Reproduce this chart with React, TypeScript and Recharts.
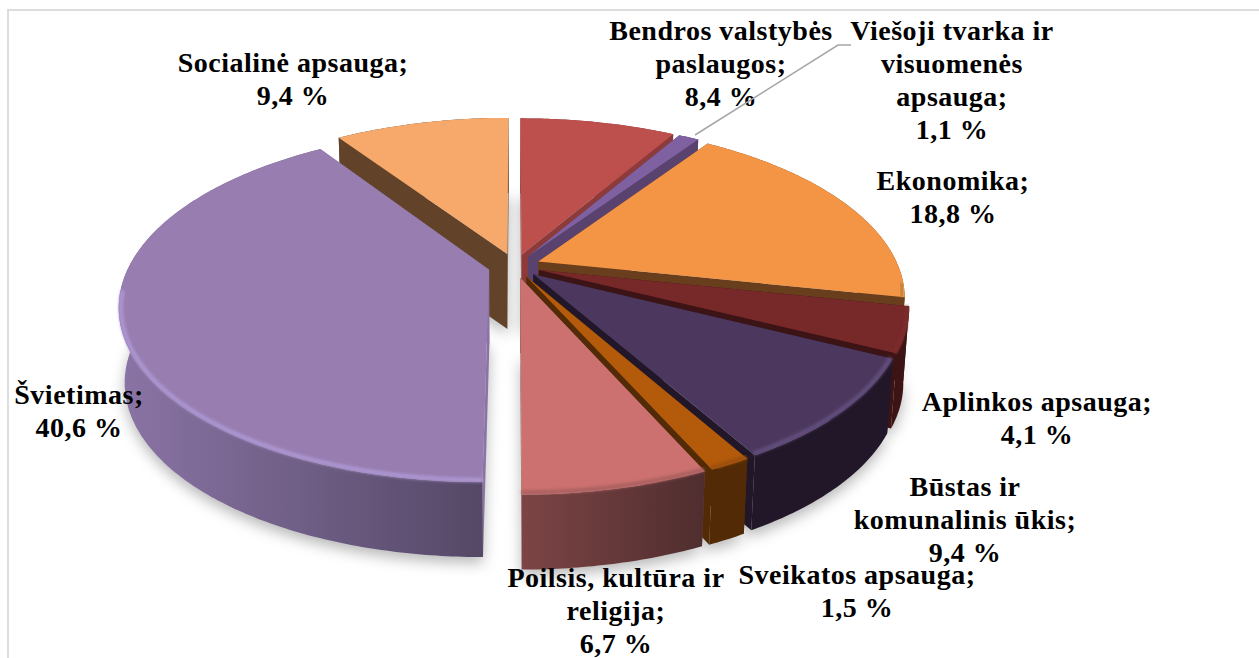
import React from "react";
import { PieChart, Pie, Cell } from "recharts";

const categories = [
  "Socialinė apsauga",
  "Bendros valstybės paslaugos",
  "Viešoji tvarka ir visuomenės apsauga",
  "Ekonomika",
  "Aplinkos apsauga",
  "Būstas ir komunalinis ūkis",
  "Sveikatos apsauga",
  "Poilsis, kultūra ir religija",
  "Švietimas",
];
const shares = [9.4, 8.4, 1.1, 18.8, 4.1, 9.4, 1.5, 6.7, 40.6];

const topColors = ["#F6A96B", "#BD4F4D", "#7F60A0", "#F39545", "#772829", "#4C385E", "#B35A0B", "#CC7170", "#977DB0"];
const wallColorsA = ["#62432A", "#8C3A3A", "#5A426F", "#683E1D", "#3D1415", "#211729", "#522A05", "#7D4445", "#8A74A5"];
const wallColorsB = ["#62432A", "#8C3A3A", "#5A426F", "#683E1D", "#3D1415", "#211729", "#522A05", "#4F2D2E", "#544866"];
const bevelColors = ["#F6A96B", "#BD4F4D", "#7F60A0", "#B9803F", "#7D2C2C", "#655080", "#9A4E0A", "#A85F5F", "#AE98D4"];
const explosions = [0.075, 0.07, 0.07, 0.07, 0.07, 0.07, 0.07, 0.07, 0.075];

const labelLines = [
  ["Socialinė apsauga;", "9,4 %"],
  ["Bendros valstybės", "paslaugos;", "8,4 %"],
  ["Viešoji tvarka ir", "visuomenės", "apsauga;", "1,1 %"],
  ["Ekonomika;", "18,8 %"],
  ["Aplinkos apsauga;", "4,1 %"],
  ["Būstas ir", "komunalinis ūkis;", "9,4 %"],
  ["Sveikatos apsauga;", "1,5 %"],
  ["Poilsis, kultūra ir", "religija;", "6,7 %"],
  ["Švietimas;", "40,6 %"],
];
const labelX = [293, 721, 952, 953, 1037, 965, 857, 616, 79];
const labelY = [72, 40, 40, 190, 411, 496, 584, 587, 404];

const chartData = categories.map((name, i) => ({ name, value: shares[i] }));

const W = 1259;
const H = 658;
const CX = 515;
const CY = 266;
const K = 0.201;
const RX = 360;
const RY = 168;
const DEPTH = 75;
const FLOOR_SCALE = 0.985;
const BASE_R = 100;

function project(ux: number, uy: number): [number, number] {
  const d = 1 - K * uy;
  return [CX + (RX * ux) / d, CY + (RY * uy) / d];
}

function samples(start: number, end: number, ex: number, ey: number) {
  const n = Math.max(2, Math.ceil(Math.abs(start - end) * 1.5));
  const pts: { p: [number, number]; uy: number }[] = [];
  for (let i = 0; i <= n; i++) {
    const a = ((start + ((end - start) * i) / n) * Math.PI) / 180;
    const uy = -Math.sin(a);
    pts.push({ p: project(ex + Math.cos(a), ey + uy), uy });
  }
  return pts;
}

function toPath(pts: [number, number][], close = true) {
  return pts.map((p, i) => `${i ? "L" : "M"}${p[0].toFixed(1)} ${p[1].toFixed(1)}`).join("") + (close ? "Z" : "");
}

const down = (p: [number, number]): [number, number] => [CX + (p[0] - CX) * FLOOR_SCALE, p[1] + DEPTH];

function sliceGeometry(props: any) {
  const { startAngle, endAngle, index } = props;
  const mid = (((startAngle + endAngle) / 2) * Math.PI) / 180;
  const e = explosions[index];
  const ex = e * Math.cos(mid);
  const ey = -e * Math.sin(mid);
  const apex = project(ex, ey);
  const rim = samples(startAngle, endAngle, ex, ey);
  return { apex, rim, rimPts: rim.map((r) => r.p) };
}

function ShadowShape(props: any) {
  const { apex, rimPts } = sliceGeometry(props);
  const pts = [apex, ...rimPts].map(down);
  return <path d={toPath(pts)} fill="#000" fillOpacity={0.28} filter="url(#floorBlur)" transform="translate(0 6)" />;
}

function SliceShape(props: any) {
  const { index } = props;
  const { apex, rim, rimPts } = sliceGeometry(props);
  const first = rimPts[0];
  const last = rimPts[rimPts.length - 1];
  const cutA = [apex, first, down(first), down(apex)];
  const cutB = [apex, last, down(last), down(apex)];
  const outer = [...rimPts, ...rimPts.slice().reverse().map(down)];
  const front = rim
    .filter((r) => r.uy > 0.12)
    .map((r) => [apex[0] + (r.p[0] - apex[0]) * 0.994, apex[1] + (r.p[1] - apex[1]) * 0.99] as [number, number]);
  return (
    <g>
      <path d={toPath(cutA)} fill={wallColorsA[index]} />
      <path d={toPath(cutB)} fill={wallColorsA[index]} />
      <path d={toPath(outer)} fill={`url(#wall${index})`} />
      <path d={toPath([apex, ...rimPts])} fill={topColors[index]} />
      {front.length > 1 && (
        <path
          d={toPath(front, false)}
          fill="none"
          stroke={bevelColors[index]}
          strokeWidth={4}
          filter="url(#bevelBlur)"
        />
      )}
    </g>
  );
}

function renderLabel(props: any) {
  const i = props.index;
  return (
    <g key={`lab${i}`}>
      {i === 2 && (
        <polyline points="695,135 838,45 851,45" fill="none" stroke="#A6A6A6" strokeWidth={1.5} />
      )}
      <text
        x={labelX[i]}
        y={labelY[i]}
        textAnchor="middle"
        fontFamily="'Liberation Serif', serif"
        fontWeight={700}
        fontSize={28}
        letterSpacing={0.5}
        fill="#000"
      >
        {labelLines[i].map((line, j) => (
          <tspan key={j} x={labelX[i]} dy={j === 0 ? 0 : 33}>
            {line}
          </tspan>
        ))}
      </text>
    </g>
  );
}

const startAngle = 90 + (shares[0] / 100) * 360;

export default function App() {
  return (
    <div style={{ position: "fixed", left: 0, top: 0, width: W, height: H, background: "#fff", overflow: "hidden" }}>
      <div
        style={{
          position: "absolute",
          left: 7,
          top: 9,
          width: 1300,
          height: 700,
          border: "2px solid #DDDDDD",
          boxSizing: "border-box",
        }}
      />
      <div style={{ position: "absolute", left: 0, top: 0 }}>
        <PieChart width={W} height={H} margin={{ top: 0, right: 0, bottom: 0, left: 0 }}>
          <defs>
            <filter id="floorBlur" x="-20%" y="-20%" width="140%" height="140%">
              <feGaussianBlur stdDeviation="7" />
            </filter>
            <filter id="bevelBlur" x="-10%" y="-10%" width="120%" height="120%">
              <feGaussianBlur stdDeviation="1.5" />
            </filter>
            {topColors.map((_, i) => (
              <linearGradient key={i} id={`wall${i}`} gradientUnits="objectBoundingBox" x1="0" y1="0" x2="1" y2="0">
                <stop offset="0" stopColor={wallColorsA[i]} />
                <stop offset="1" stopColor={wallColorsB[i]} />
              </linearGradient>
            ))}
          </defs>
          <Pie
            data={chartData}
            dataKey="value"
            nameKey="name"
            cx={CX}
            cy={CY}
            outerRadius={BASE_R}
            startAngle={startAngle}
            endAngle={startAngle - 360}
            stroke="none"
            isAnimationActive={false}
            shape={ShadowShape as any}
            label={false}
            labelLine={false}
          />
          <Pie
            data={chartData}
            dataKey="value"
            nameKey="name"
            cx={CX}
            cy={CY}
            outerRadius={BASE_R}
            startAngle={startAngle}
            endAngle={startAngle - 360}
            stroke="none"
            isAnimationActive={false}
            shape={SliceShape as any}
            label={renderLabel}
            labelLine={false}
          >
            {chartData.map((d, i) => (
              <Cell key={d.name} fill={topColors[i]} />
            ))}
          </Pie>
        </PieChart>
      </div>
    </div>
  );
}
